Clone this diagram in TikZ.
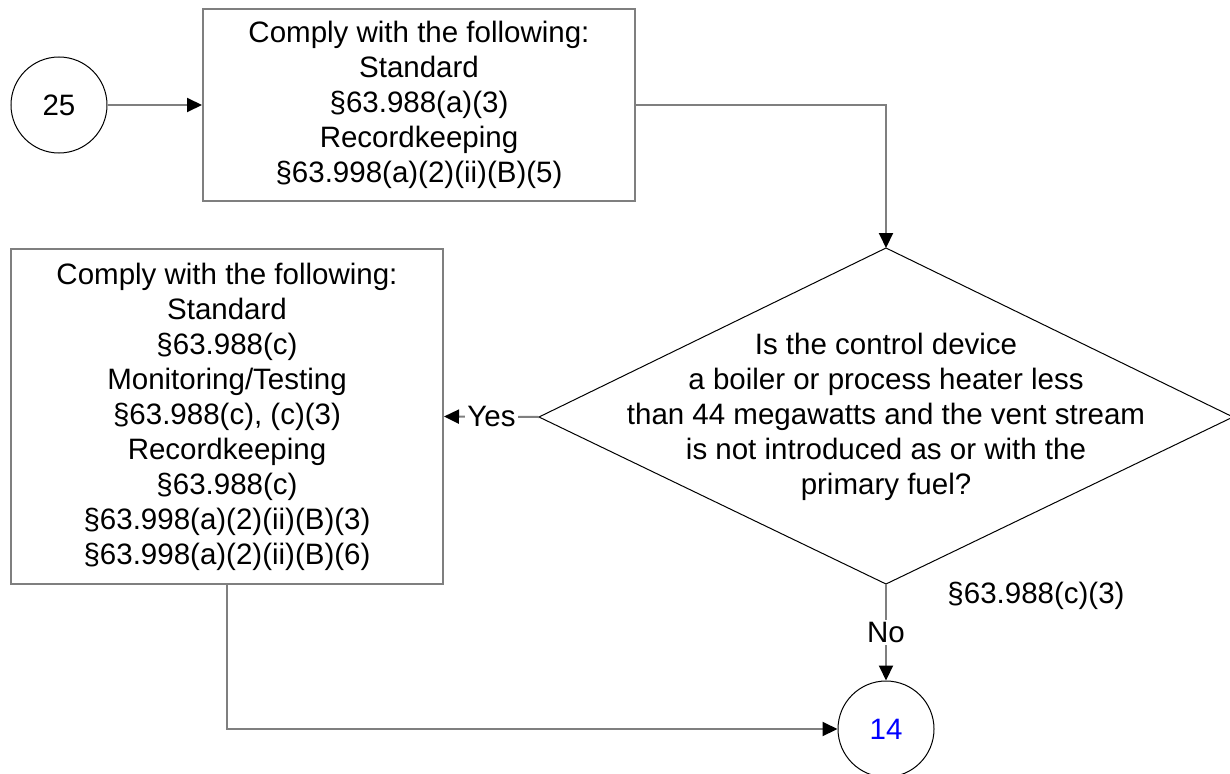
\documentclass[tikz,border=0pt]{standalone}
\usepackage{fontspec}
\setmainfont{Liberation Sans}
\usetikzlibrary{arrows.meta,shapes.geometric}
\definecolor{linegray}{HTML}{7F7F7F}
\definecolor{numblue}{HTML}{0000FF}
\tikzset{
  conn/.style={draw=linegray, line width=2pt},
  arr/.style={conn, -{Triangle[length=15pt,width=14pt,fill=black,color=black]}},
  procbox/.style={draw=linegray, line width=2pt, rectangle, align=center, inner sep=0pt},
  connector/.style={draw=black, line width=1pt, circle, minimum size=96pt, inner sep=0pt},
  decision/.style={draw=black, line width=1pt},
  lbl/.style={fill=white, inner sep=2pt},
  txt/.style={font=\fontsize{29.5}{35}\selectfont},
}
\begin{document}
\begin{tikzpicture}[x=1pt, y=-1pt, txt, every node/.style={txt}]
\useasboundingbox (0,0) rectangle (1230,773);

% nodes
\node[connector] (c25) at (59,105) {25};
\node[procbox, minimum width=432pt, minimum height=192pt] (b1) at (419,105)
  {Comply with the following:\\Standard\\\S63.988(a)(3)\\Recordkeeping\\\S63.998(a)(2)(ii)(B)(5)};

\coordinate (dtop) at (886,248);
\coordinate (dbot) at (886,584);
\coordinate (dleft) at (539,417);
\coordinate (dright) at (1233,417);
\draw[decision] (dtop) -- (dright) -- (dbot) -- (dleft) -- cycle;
\node[align=center, inner sep=0pt] (dtext) at (886,417)
  {Is the control device\\a boiler or process heater less\\than 44 megawatts and the vent stream\\is not introduced as or with the\\primary fuel?};

\node[procbox, minimum width=432pt, minimum height=335pt] (b2) at (227,416.5)
  {Comply with the following:\\Standard\\\S63.988(c)\\Monitoring/Testing\\\S63.988(c), (c)(3)\\Recordkeeping\\\S63.988(c)\\\S63.998(a)(2)(ii)(B)(3)\\\S63.998(a)(2)(ii)(B)(6)};

\node[connector, text=numblue] (c14) at (886,729) {14};
\node[inner sep=0pt] (cite) at (1036,596) {\S63.988(c)(3)};

% connectors
\draw[arr] (c25.east) -- (b1.west);
\draw[arr] (b1.east) -| (dtop);
\draw[arr] (dleft) -- node[lbl] (yes) {Yes} (b2.east);
\draw[arr] (dbot) -- node[lbl] (no) {No} (c14.north);
\draw[arr] (b2.south) |- (c14.west);
\end{tikzpicture}
\end{document}
